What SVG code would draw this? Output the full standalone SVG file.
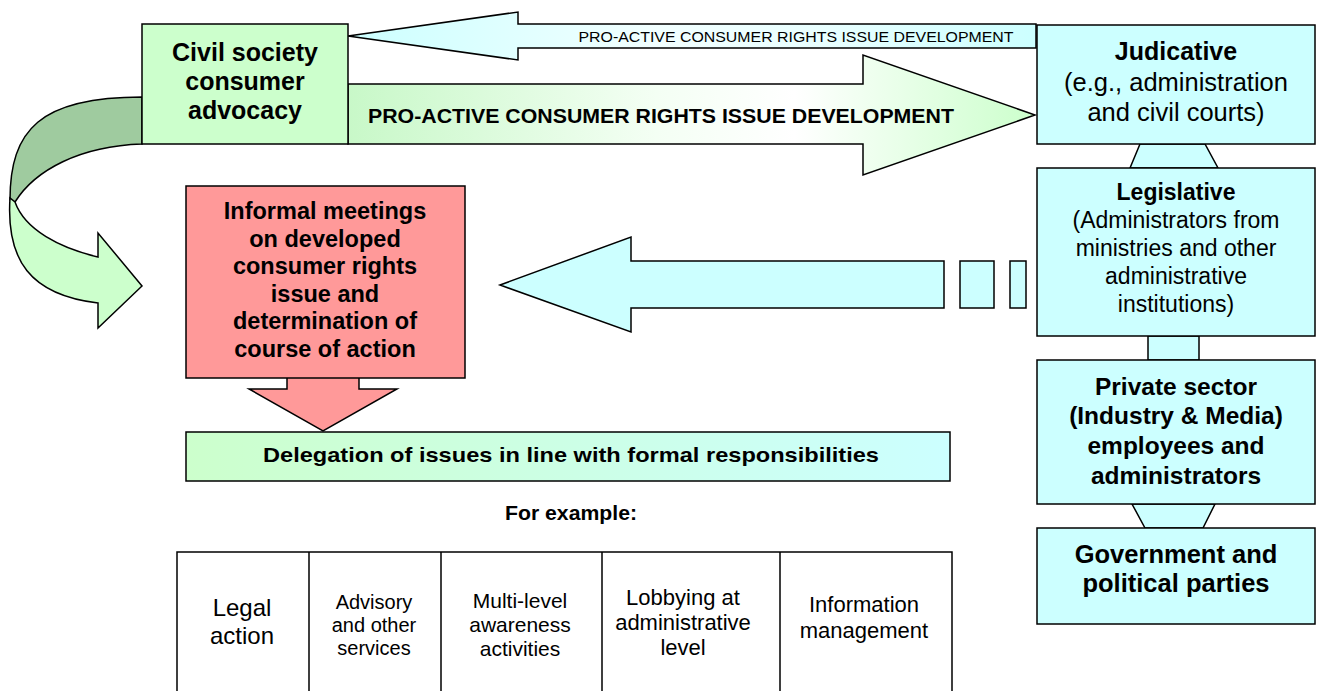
<svg xmlns="http://www.w3.org/2000/svg" width="1318" height="691" viewBox="0 0 1318 691">
<defs>
<style>
.s{stroke:#000;stroke-width:1.5;stroke-linejoin:miter}
.cy{fill:#CCFFFF}
.gr{fill:#CCFFCC}
.rd{fill:#FF9999}
text{font-family:"Liberation Sans",Arial,sans-serif;fill:#000;text-anchor:middle}
.b{font-weight:bold}
</style>
<linearGradient id="gGreen" gradientUnits="userSpaceOnUse" x1="348" y1="0" x2="1035" y2="0">
<stop offset="0" stop-color="#C8F8C8"/>
<stop offset="0.45" stop-color="#F4FFF4"/>
<stop offset="0.65" stop-color="#FFFFFF"/>
<stop offset="1" stop-color="#CCFFCC"/>
</linearGradient>
<linearGradient id="gCyan" gradientUnits="userSpaceOnUse" x1="348" y1="0" x2="1036" y2="0">
<stop offset="0" stop-color="#CCFFFF"/>
<stop offset="0.45" stop-color="#F2FFFF"/>
<stop offset="0.7" stop-color="#E8FFFF"/>
<stop offset="1" stop-color="#CCFFFF"/>
</linearGradient>
<linearGradient id="gDel" gradientUnits="userSpaceOnUse" x1="186" y1="0" x2="950" y2="0">
<stop offset="0" stop-color="#CCFFCC"/>
<stop offset="1" stop-color="#CCFFFF"/>
</linearGradient>
</defs>

<g id="connectors">
<!-- top cyan arrow pointing left -->
<path class="s" fill="url(#gCyan)" d="M348,36 L518,12 L518,24 L1036,24 L1036,48 L518,48 L518,60 Z"/>
<text x="796" y="42" font-size="15" textLength="435" lengthAdjust="spacingAndGlyphs">PRO-ACTIVE CONSUMER RIGHTS ISSUE DEVELOPMENT</text>
<!-- green arrow pointing right -->
<path class="s" fill="url(#gGreen)" d="M348,84 L863,84 L863,55 L1035,115 L863,175 L863,144 L348,144 Z"/>
<text class="b" x="661" y="123" font-size="20" textLength="586" lengthAdjust="spacingAndGlyphs">PRO-ACTIVE CONSUMER RIGHTS ISSUE DEVELOPMENT</text>
<!-- curved arrow -->
<path class="s" fill="#9FCB9F" d="M142,97 C40,97 10,130 10,200 L15,202 C35,170 80,146 142,144 Z"/>
<path class="s gr" d="M10,198 C6,260 30,295 98,303 L98,328 L142,286 L98,233 L98,257 C60,248 25,230 15,202 Z"/>
<!-- big cyan arrow pointing left -->
<path class="s cy" d="M500,285 L631,237 L631,261 L944,261 L944,308 L631,308 L631,332 Z"/>
<rect class="s cy" x="960" y="261" width="34" height="47"/>
<rect class="s cy" x="1010" y="261" width="16" height="47"/>
<!-- red down arrow -->
<path class="s rd" d="M287,378 L287,389 L249,389 L323,431 L397,389 L359,389 L359,378"/>
<!-- right column links -->
<path class="s cy" d="M1140,144 L1205,144 L1218,168 L1130,168 Z"/>
<rect class="s cy" x="1148" y="336" width="51" height="24"/>
<path class="s cy" d="M1132,504 L1215,504 L1203,528 L1145,528 Z"/>
</g>

<g id="civil">
<rect class="s gr" x="142" y="24" width="206" height="120"/>
<text class="b" x="245" y="61" font-size="25">Civil society</text>
<text class="b" x="245" y="90" font-size="25">consumer</text>
<text class="b" x="245" y="119" font-size="25">advocacy</text>
</g>

<g id="judicative">
<rect class="s cy" x="1037" y="25" width="278" height="119"/>
<text class="b" x="1176" y="60" font-size="25">Judicative</text>
<text x="1176" y="91" font-size="25.5">(e.g., administration</text>
<text x="1176" y="121" font-size="25.5">and civil courts)</text>
</g>

<g id="legislative">
<rect class="s cy" x="1037" y="168" width="278" height="168"/>
<text class="b" x="1176" y="200" font-size="23">Legislative</text>
<text x="1176" y="228" font-size="23">(Administrators from</text>
<text x="1176" y="256" font-size="23">ministries and other</text>
<text x="1176" y="284" font-size="23">administrative</text>
<text x="1176" y="312" font-size="23">institutions)</text>
</g>

<g id="private">
<rect class="s cy" x="1037" y="360" width="278" height="144"/>
<text class="b" x="1176" y="395" font-size="24.5">Private sector</text>
<text class="b" x="1176" y="424" font-size="24.5">(Industry &amp; Media)</text>
<text class="b" x="1176" y="454" font-size="24.5">employees and</text>
<text class="b" x="1176" y="484" font-size="24.5">administrators</text>
</g>

<g id="government">
<rect class="s cy" x="1037" y="528" width="278" height="96"/>
<text class="b" x="1176" y="563" font-size="25.5">Government and</text>
<text class="b" x="1176" y="592" font-size="25.5">political parties</text>
</g>

<g id="informal">
<rect class="s rd" x="186" y="186" width="279" height="192"/>
<text class="b" x="325" y="219" font-size="23.5">Informal meetings</text>
<text class="b" x="325" y="246.5" font-size="23.5">on developed</text>
<text class="b" x="325" y="274" font-size="23.5">consumer rights</text>
<text class="b" x="325" y="301.5" font-size="23.5">issue and</text>
<text class="b" x="325" y="329" font-size="23.5">determination of</text>
<text class="b" x="325" y="356.5" font-size="23.5">course of action</text>
</g>

<g id="delegation">
<rect class="s" fill="url(#gDel)" x="186" y="432" width="764" height="49"/>
<text class="b" x="571" y="462" font-size="21" textLength="616" lengthAdjust="spacingAndGlyphs">Delegation of issues in line with formal responsibilities</text>
</g>

<g id="example">
<text class="b" x="571" y="520" font-size="19.5" textLength="132" lengthAdjust="spacingAndGlyphs">For example:</text>
</g>

<g id="table">
<path d="M177,691 L177,552 L952,552 L952,691 M309,552 L309,691 M441,552 L441,691 M602,552 L602,691 M780,552 L780,691" fill="none" stroke="#000" stroke-width="1.5"/>
<text x="242" y="616" font-size="24">Legal</text>
<text x="242" y="644" font-size="24">action</text>
<text x="374" y="609" font-size="20">Advisory</text>
<text x="374" y="632" font-size="20">and other</text>
<text x="374" y="655" font-size="20">services</text>
<text x="520" y="608" font-size="21">Multi-level</text>
<text x="520" y="632" font-size="21">awareness</text>
<text x="520" y="656" font-size="21">activities</text>
<text x="683" y="605" font-size="22">Lobbying at</text>
<text x="683" y="630" font-size="22">administrative</text>
<text x="683" y="655" font-size="22">level</text>
<text x="864" y="612" font-size="22">Information</text>
<text x="864" y="638" font-size="22">management</text>
</g>
</svg>
